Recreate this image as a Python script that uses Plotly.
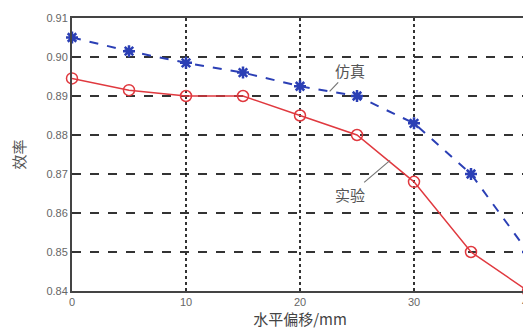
import plotly.graph_objects as go

offset_mm = [0, 5, 10, 15, 20, 25, 30, 35, 40]
sim_eff = [0.905, 0.9015, 0.8985, 0.896, 0.8925, 0.890, 0.883, 0.870, 0.850]
exp_eff = [0.8945, 0.8915, 0.890, 0.890, 0.885, 0.880, 0.868, 0.850, 0.840]
x_ticks = [0, 10, 20, 30, 40]
y_ticks = [0.84, 0.85, 0.86, 0.87, 0.88, 0.89, 0.90, 0.91]

fig = go.Figure()
fig.add_trace(go.Scatter(
    x=offset_mm, y=sim_eff, mode="lines+markers", name="仿真",
    line=dict(color="#2b3fb5", width=2, dash="dash"),
    marker=dict(symbol="asterisk-open", size=10, line=dict(color="#2b3fb5", width=2.5)),
    cliponaxis=False,
))
fig.add_trace(go.Scatter(
    x=offset_mm, y=exp_eff, mode="lines+markers", name="实验",
    line=dict(color="#e0393f", width=1.5),
    marker=dict(symbol="circle-open", size=11, color="#e0393f", line=dict(color="#e0393f", width=1.5)),
    cliponaxis=False,
))

ann_font = dict(family="Noto Sans CJK SC", size=15, color="#555555")
fig.add_annotation(x=22.6, y=0.8912, text="仿真", showarrow=True, arrowhead=0,
                   arrowcolor="#777777", arrowwidth=1.2, ax=20, ay=-21, font=ann_font)
fig.add_annotation(x=27.9, y=0.8735, text="实验", showarrow=True, arrowhead=0,
                   arrowcolor="#777777", arrowwidth=1.2, ax=-40, ay=34, font=ann_font)

fig.update_layout(
    width=531, height=322,
    margin=dict(l=64, r=11, t=10, b=39),
    paper_bgcolor="white", plot_bgcolor="white",
    showlegend=False,
    font=dict(family="Liberation Sans, Arial", color="#555555"),
)
fig.update_xaxes(
    range=[0, 40], tickvals=x_ticks, ticktext=[str(v) for v in x_ticks],
    showgrid=True, gridcolor="#333333", griddash="dot", gridwidth=2,
    showline=True, linecolor="#444444", linewidth=2, mirror=True,
    ticks="", tickfont=dict(size=11, color="#666666"), zeroline=False, automargin=False,
    title=dict(text="水平偏移/mm", font=dict(family="Noto Sans CJK SC", size=15, color="#444444"), standoff=2),
)
fig.update_yaxes(
    range=[0.84, 0.91], tickvals=y_ticks, ticktext=[f"{v:.2f}" for v in y_ticks],
    showgrid=True, gridcolor="#333333", griddash="dash", gridwidth=2,
    showline=True, linecolor="#444444", linewidth=2, mirror=True,
    ticks="", tickfont=dict(size=11, color="#666666"), zeroline=False, automargin=False,
    title=dict(text="效率", font=dict(family="Noto Sans CJK SC", size=15, color="#555555"), standoff=22),
)

fig.write_html("out.html")
